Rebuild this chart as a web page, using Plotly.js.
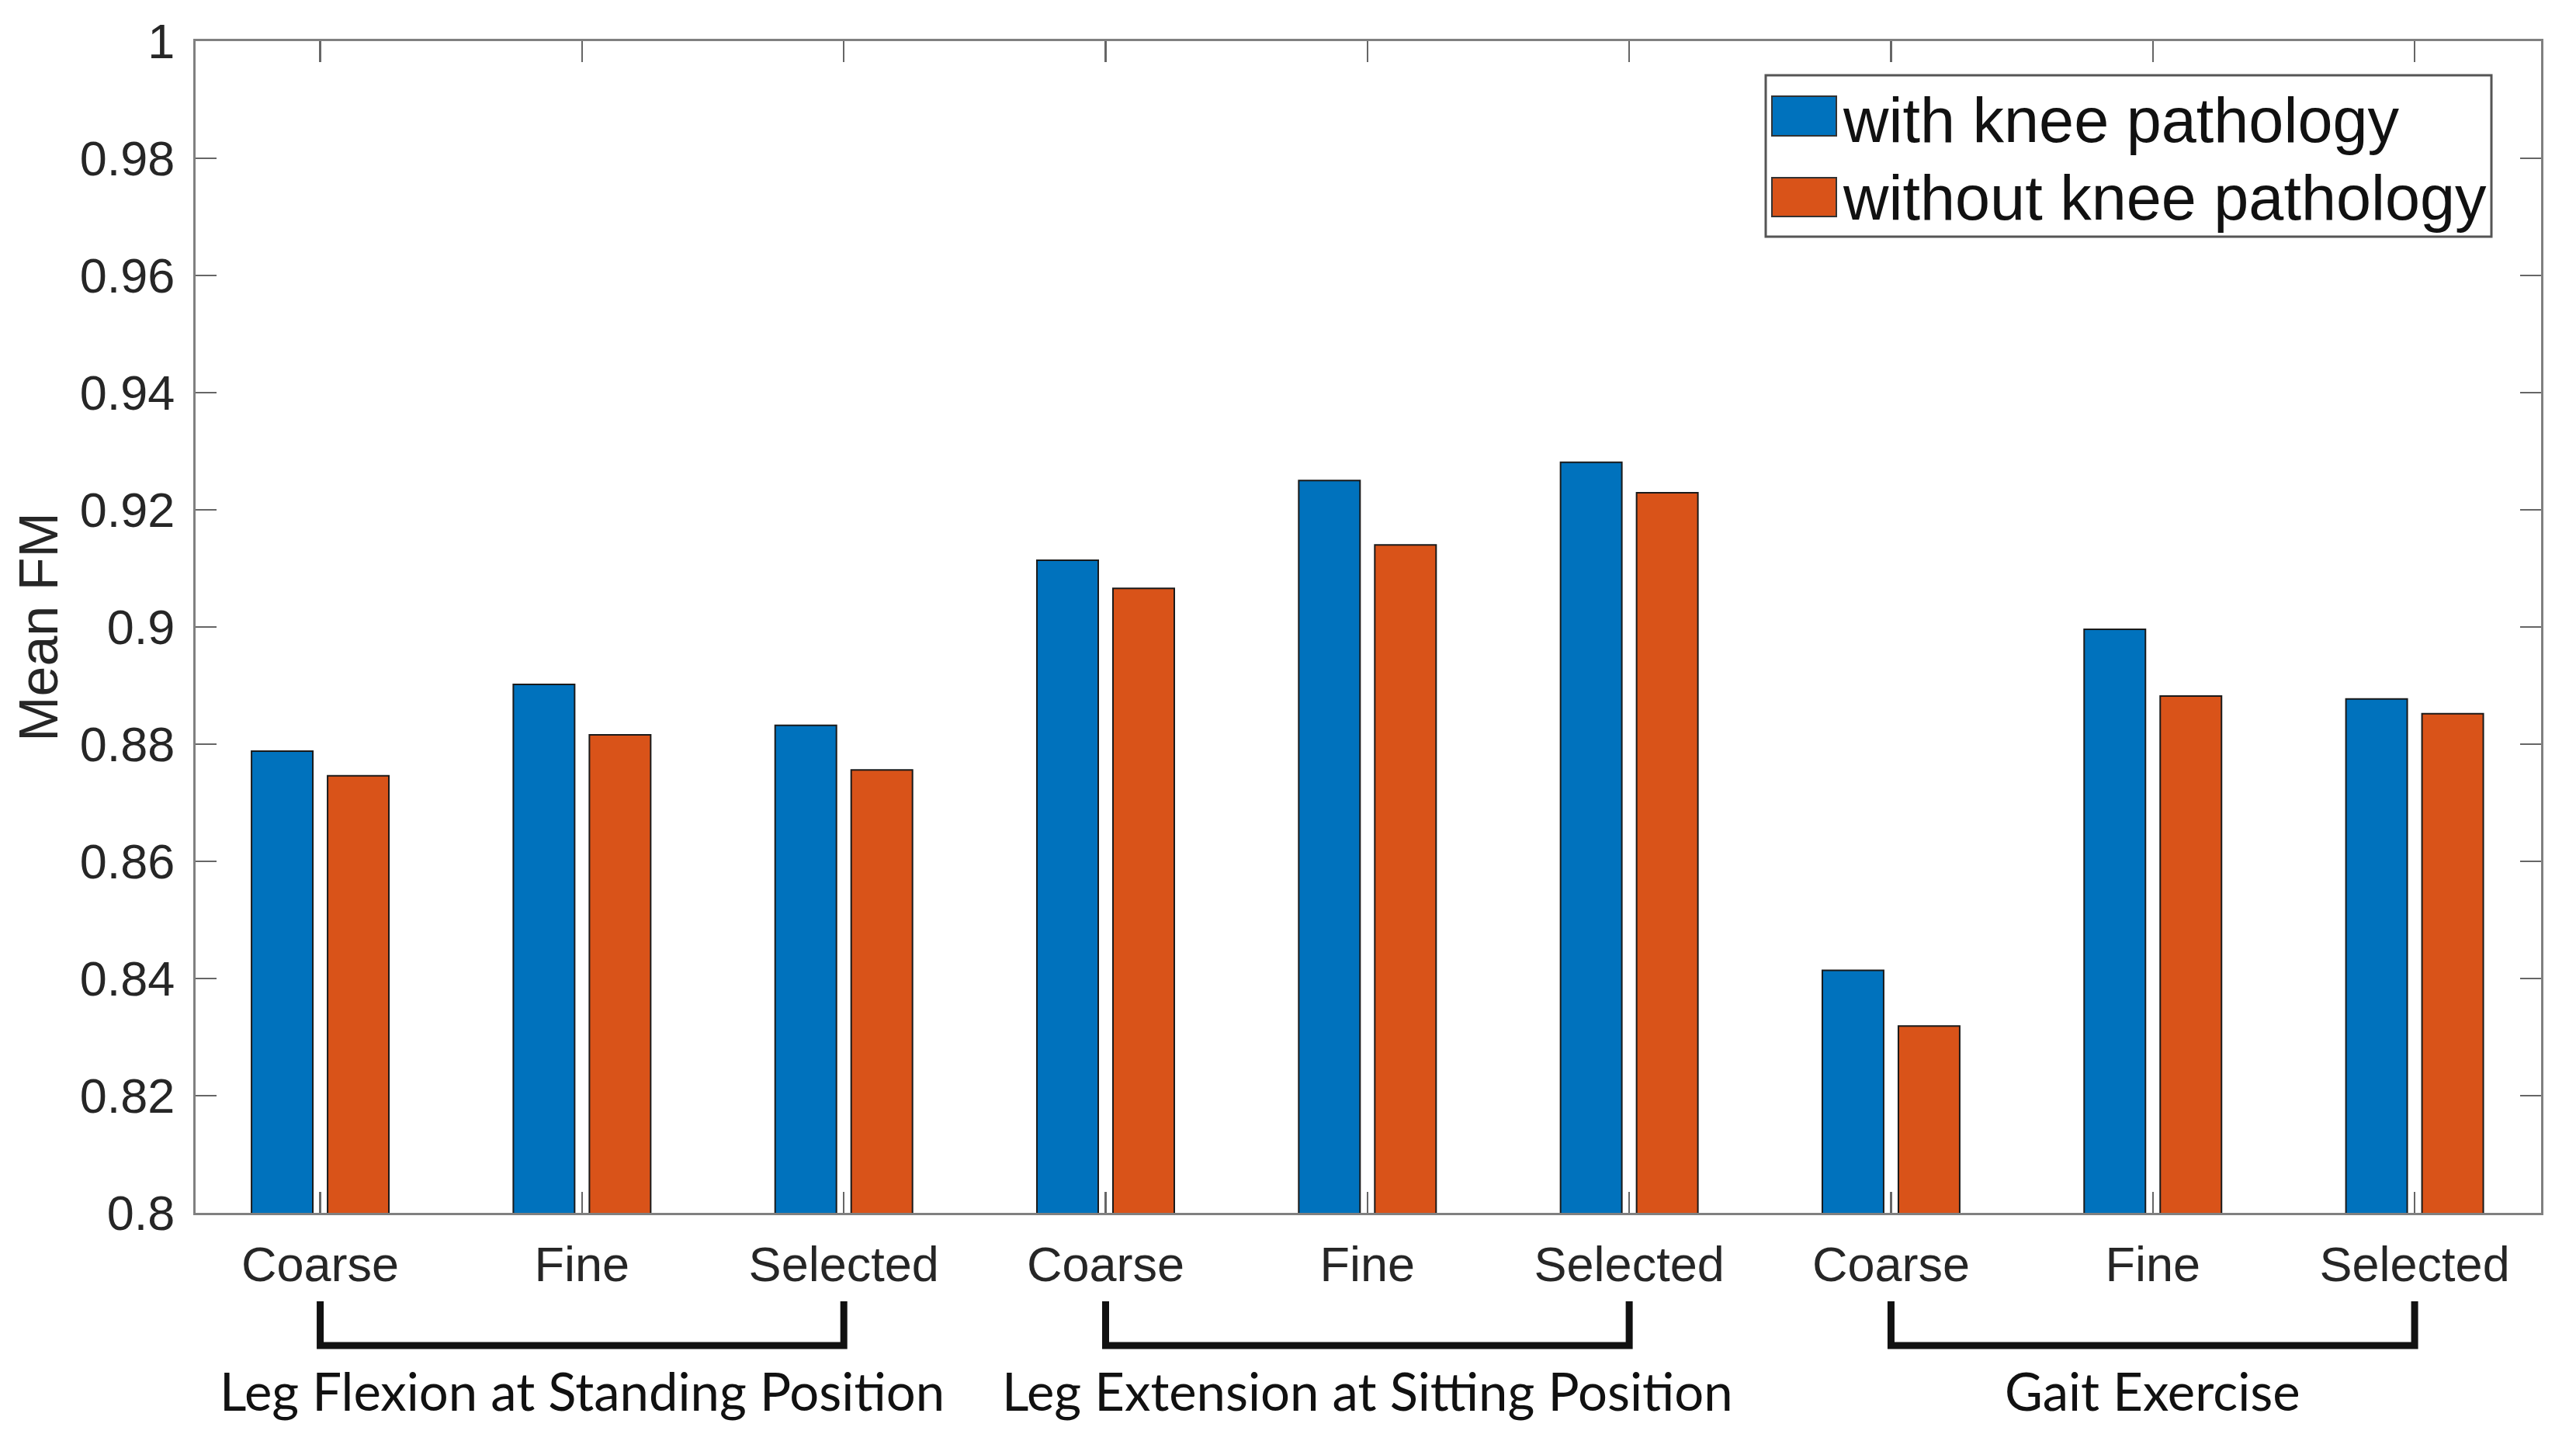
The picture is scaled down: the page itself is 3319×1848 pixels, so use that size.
<!DOCTYPE html>
<html>
<head>
<meta charset="utf-8">
<script src="https://cdn.plot.ly/plotly-3.0.1.min.js"></script>
<style>
  html, body { margin: 0; padding: 0; background: #ffffff; }
  #chart { width: 3319px; height: 1848px; }
</style>
</head>
<body>
<div id="chart"></div>
<script>
// ---- data ----
const levels = ['Coarse', 'Fine', 'Selected'];
const groups = ['Leg Flexion at Standing Position', 'Leg Extension at Sitting Position', 'Gait Exercise'];
const seriesNames = ['with knee pathology', 'without knee pathology'];
const withPathology    = [0.8788, 0.8902, 0.8832, 0.9114, 0.9250, 0.9281, 0.8414, 0.8996, 0.8877];
const withoutPathology = [0.8746, 0.8816, 0.8756, 0.9066, 0.9140, 0.9229, 0.8319, 0.8882, 0.8852];
const yTickVals   = [0.8, 0.82, 0.84, 0.86, 0.88, 0.9, 0.92, 0.94, 0.96, 0.98, 1];
const yTickLabels = ['0.8', '0.82', '0.84', '0.86', '0.88', '0.9', '0.92', '0.94', '0.96', '0.98', '1'];

// ---- derived ----
const xPos = [];
const xLabels = [];
groups.forEach((g, gi) => levels.forEach((l, li) => { xPos.push(gi * levels.length + li); xLabels.push(l); }));

const colors = ['#0072BD', '#D95319'];
const W = 3319, H = 1848;
const M = { l: 252, r: 45, t: 53, b: 285 };
const plotW = W - M.l - M.r, plotH = H - M.t - M.b;
const px2x = X => (X - M.l) / plotW;
const px2y = Y => (H - M.b - Y) / plotH;

const traces = [withPathology, withoutPathology].map((vals, i) => ({
  type: 'bar',
  name: seriesNames[i],
  x: xPos,
  y: vals,
  marker: { color: colors[i], line: { color: '#1a1a1a', width: 2 } },
  showlegend: false,
  hoverinfo: 'x+y'
}));

const shapes = [];
const annotations = [];
// group brackets and labels
groups.forEach((g, gi) => {
  const a = gi * levels.length, b = a + levels.length - 1;
  const yt = px2y(1677), yb = px2y(1734);
  shapes.push({
    type: 'path', xref: 'x', yref: 'paper',
    path: `M ${a},${yt} L ${a},${yb} L ${b},${yb} L ${b},${yt}`,
    line: { color: '#111111', width: 9 }
  });
  annotations.push({
    xref: 'x', yref: 'paper', x: (a + b) / 2, y: px2y(1792),
    text: g, showarrow: false, xanchor: 'center', yanchor: 'middle',
    font: { family: 'Lato, "Open Sans", sans-serif', size: 67, color: '#111111' }
  });
});
// legend box
shapes.push({
  type: 'rect', xref: 'paper', yref: 'paper',
  x0: px2x(2275), x1: px2x(3210), y0: px2y(305), y1: px2y(97),
  line: { color: '#555555', width: 3 }, fillcolor: '#ffffff', layer: 'above'
});
const rowsY = [[124, 175, 155], [229, 279, 255]];
seriesNames.forEach((n, i) => {
  shapes.push({
    type: 'rect', xref: 'paper', yref: 'paper',
    x0: px2x(2283), x1: px2x(2366), y0: px2y(rowsY[i][1]), y1: px2y(rowsY[i][0]),
    line: { color: '#333333', width: 2 }, fillcolor: colors[i], layer: 'above'
  });
  annotations.push({
    xref: 'paper', yref: 'paper', x: px2x(2372), y: px2y(rowsY[i][2]),
    text: n, showarrow: false, xanchor: 'left', yanchor: 'middle',
    font: { family: '"Liberation Sans", Arial, sans-serif', size: 81, color: '#111111' }
  });
});

const axisCommon = {
  showline: true, linecolor: '#808080', linewidth: 3, mirror: 'ticks',
  ticks: 'inside', ticklen: 27, tickwidth: 2.5, tickcolor: '#666666',
  showgrid: false, zeroline: false, automargin: false,
  tickfont: { family: '"Liberation Sans", Arial, sans-serif', size: 63, color: '#262626' }
};

const layout = {
  width: W, height: H,
  margin: M,
  paper_bgcolor: '#ffffff', plot_bgcolor: '#ffffff',
  barmode: 'group', bargap: 0.419, bargroupgap: 0.194,
  showlegend: false,
  xaxis: Object.assign({}, axisCommon, {
    range: [-0.476, 8.483],
    tickmode: 'array', tickvals: xPos, ticktext: xLabels,
    ticklabelstandoff: 9
  }),
  yaxis: Object.assign({}, axisCommon, {
    range: [0.8, 1],
    tickmode: 'array', tickvals: yTickVals, ticktext: yTickLabels,
    ticklabelstandoff: 11,
    title: { text: 'Mean FM', standoff: 6,
      font: { family: '"Liberation Sans", Arial, sans-serif', size: 70, color: '#262626' } }
  }),
  shapes: shapes,
  annotations: annotations
};

Plotly.newPlot('chart', traces, layout, { displayModeBar: false, staticPlot: true });
</script>
</body>
</html>
